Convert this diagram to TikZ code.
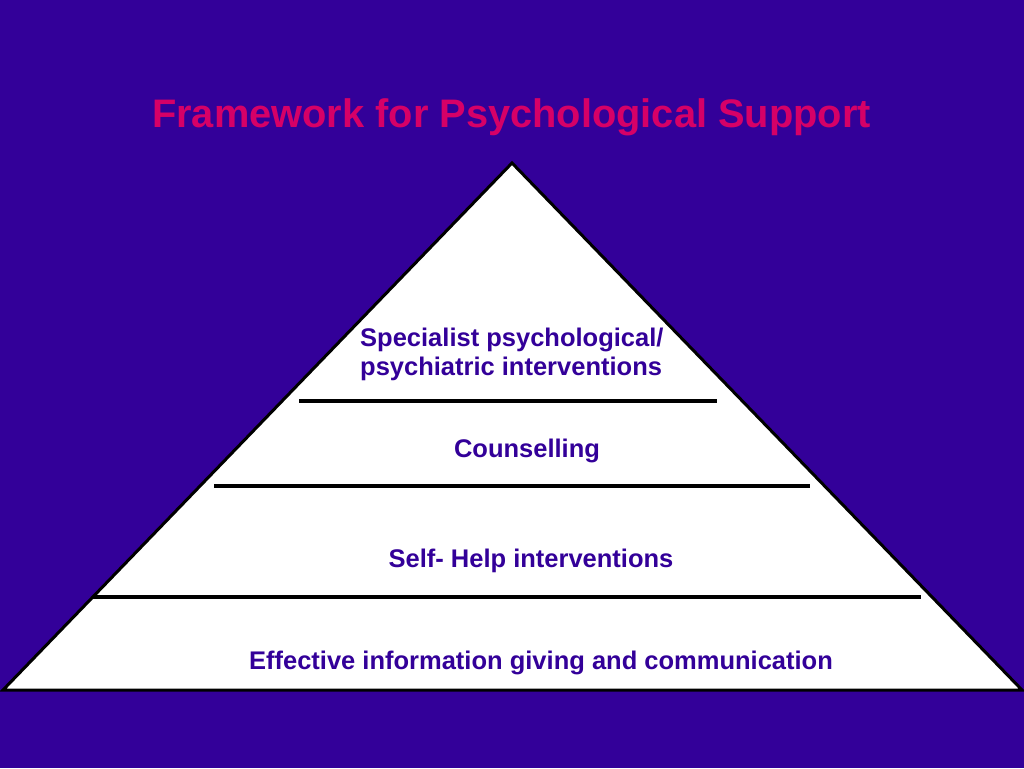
\documentclass[tikz,border=0pt]{standalone}
\usepackage{fontspec}
\setmainfont{Liberation Sans}
\definecolor{bgpurple}{HTML}{330099}
\definecolor{titlepink}{HTML}{D60067}
\tikzset{
  layertext/.style={inner sep=0pt, anchor=base, text=bgpurple, font=\fontsize{25.5}{29}\selectfont\bfseries},
  divider/.style={draw=black, line width=3.5pt},
}
\begin{document}
\begin{tikzpicture}[x=1pt,y=-1pt]
\fill[bgpurple] (0,0) rectangle (1024,768);
\useasboundingbox (0,0) rectangle (1024,768);
\node[inner sep=0pt, anchor=base, text=titlepink, font=\fontsize{39.8}{44}\selectfont\bfseries] (title) at (511.5,127) {Framework for Psychological Support};
\coordinate (apex) at (512,163);
\coordinate (bl) at (3,690);
\coordinate (br) at (1022,690);
\draw[fill=white, draw=black, line width=3pt, line join=miter] (apex) -- (br) -- (bl) -- cycle;
\coordinate (d1l) at (299,401); \coordinate (d1r) at (717,401);
\coordinate (d2l) at (214,486); \coordinate (d2r) at (810,486);
\coordinate (d3l) at (93,597); \coordinate (d3r) at (921,597);
\draw[divider] (d1l) -- (d1r);
\draw[divider] (d2l) -- (d2r);
\draw[divider] (d3l) -- (d3r);
\node[layertext, anchor=base west] (spec1) at (360,346) {Specialist psychological/};
\node[layertext, anchor=base west] (spec2) at (360,375) {psychiatric interventions};
\node[layertext] (couns) at (527,457) {Counselling};
\node[layertext] (self) at (531,567) {Self- Help interventions};
\node[layertext] (eff) at (541,669) {Effective information giving and communication};
\end{tikzpicture}
\end{document}
